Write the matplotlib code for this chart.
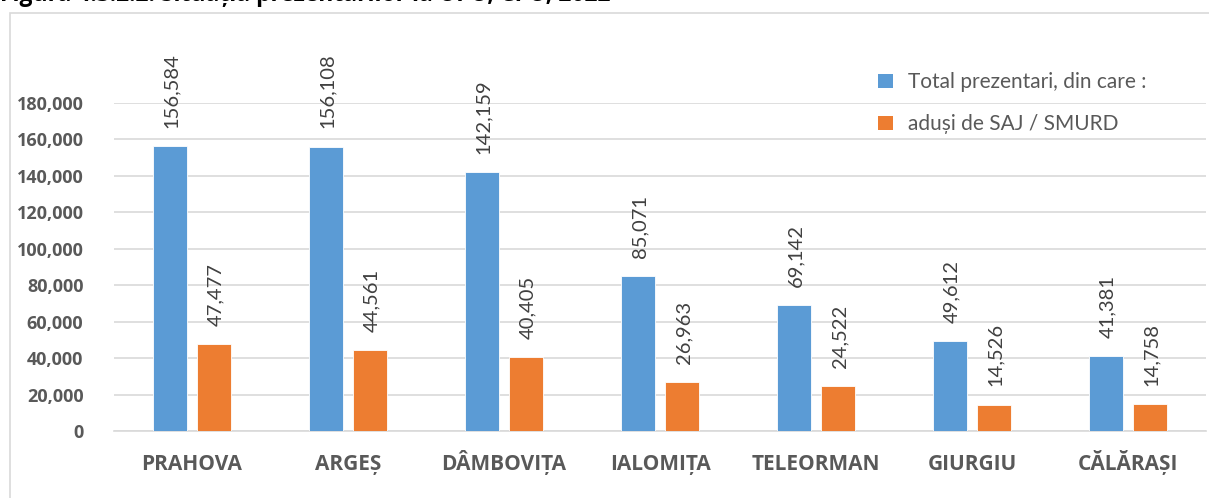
import numpy as np
import matplotlib.pyplot as plt
from matplotlib.patches import Rectangle, Patch
from matplotlib.ticker import FuncFormatter

plt.rcParams['font.family'] = ['Lato', 'DejaVu Sans']

judete = ["PRAHOVA", "ARGEȘ", "DÂMBOVIȚA", "IALOMIȚA", "TELEORMAN", "GIURGIU", "CĂLĂRAȘI"]
total_prezentari = [156584, 156108, 142159, 85071, 69142, 49612, 41381]
adusi_saj_smurd = [47477, 44561, 40405, 26963, 24522, 14526, 14758]
serii = ["Total prezentari, din care :", "aduși de SAJ / SMURD"]
y_ticks = [0, 20000, 40000, 60000, 80000, 100000, 120000, 140000, 160000, 180000]
titlu = "Figura 4.3.2.2. Situația prezentarilor la UPU, CPU, 2022"

BLUE = "#5B9BD5"
ORANGE = "#ED7D31"
GRID = "#D9D9D9"
TEXT = "#595959"
LABEL = "#404040"
BOLD_FONT = ['Open Sans', 'DejaVu Sans']

W, H = 1209, 498
fig = plt.figure(figsize=(W / 100, H / 100), dpi=100)

# chart frame, cut by the page edge on the right and bottom
fig.patches.append(Rectangle((10 / W, -0.1), 1.2, 1 - 13 / H + 0.1,
                             transform=fig.transFigure, fill=False,
                             edgecolor=GRID, linewidth=1.2))
fig.text(0.0, 1 - 1 / H, titlu, fontsize=16.5, fontweight='bold',
         family=BOLD_FONT, color='black', va='baseline', ha='left')

ax = fig.add_axes([114 / W, 1 - 431 / H, (1206 - 114) / W, (431 - 103) / H])

x = np.arange(len(judete))
w = 0.224
off = 0.141
b1 = ax.bar(x - off, total_prezentari, w, color=BLUE, edgecolor='white', linewidth=0.6, zorder=3)
b2 = ax.bar(x + off, adusi_saj_smurd, w, color=ORANGE, edgecolor='white', linewidth=0.6, zorder=3)

for bars, vals in ((b1, total_prezentari), (b2, adusi_saj_smurd)):
    for r, v in zip(bars, vals):
        ax.annotate(f"{v:,}", (r.get_x() + r.get_width() / 2, v),
                    xytext=(1, 13), textcoords='offset points',
                    rotation=90, ha='center', va='bottom',
                    fontsize=14.5, color=LABEL, annotation_clip=False)

ax.set_xlim(-0.5, len(judete) - 0.5)
ax.set_ylim(0, 180000)
ax.set_yticks(y_ticks)
ax.yaxis.set_major_formatter(FuncFormatter(lambda v, p: f"{int(v):,}"))
ax.set_xticks(x)
ax.set_xticklabels(judete)
ax.tick_params(axis='y', length=0, pad=22, labelsize=13, labelcolor=TEXT)
ax.tick_params(axis='x', length=0, pad=28, labelsize=15, labelcolor=TEXT)
for lbl in ax.get_xticklabels() + ax.get_yticklabels():
    lbl.set_fontweight('bold')
    lbl.set_family(BOLD_FONT)
for lbl in ax.get_xticklabels():
    lbl.set_verticalalignment('baseline')

ax.grid(axis='y', color=GRID, linewidth=1.2, zorder=0)
ax.set_axisbelow(True)
for s in ('top', 'right', 'left'):
    ax.spines[s].set_visible(False)
ax.spines['bottom'].set_color(GRID)
ax.spines['bottom'].set_linewidth(1.2)
ax.spines['bottom'].set_clip_on(False)

handles = [Patch(facecolor=BLUE), Patch(facecolor=ORANGE)]
leg = fig.legend(handles, serii, loc='upper left',
                 bbox_to_anchor=(868 / W, 1 - 62 / H),
                 frameon=False, fontsize=15, labelcolor=TEXT,
                 handlelength=0.7, handleheight=0.7, handletextpad=0.7,
                 labelspacing=1.05, borderpad=0)

fig.savefig("out.png", dpi=100)
